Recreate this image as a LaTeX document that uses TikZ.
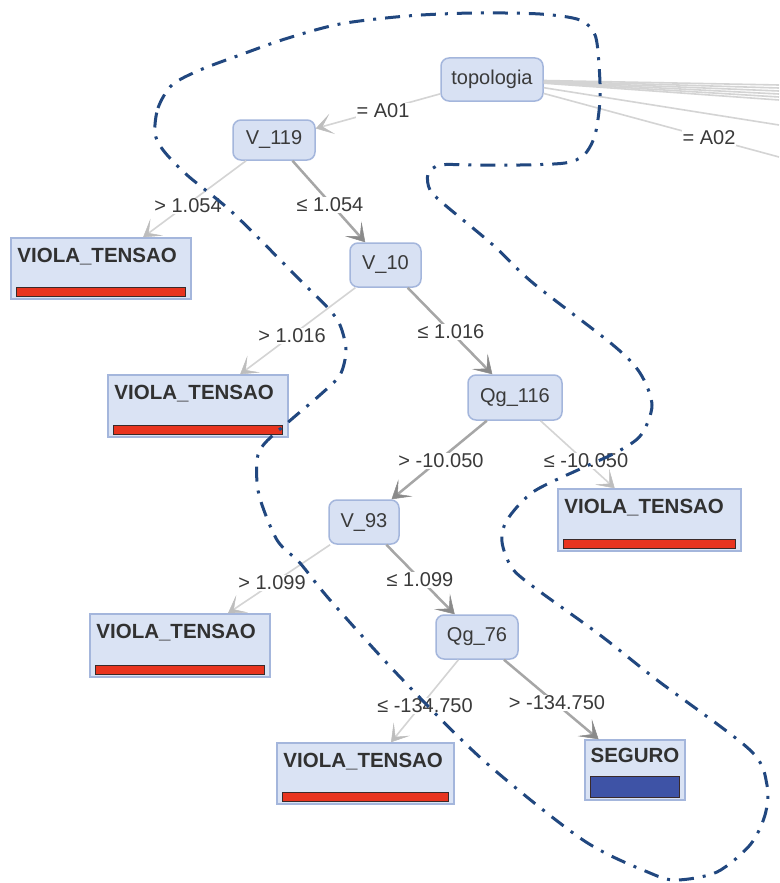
\documentclass[tikz,border=0pt]{standalone}
\usepackage{fontspec}
\setmainfont{Liberation Sans}
\usetikzlibrary{arrows.meta}
\definecolor{nodefill}{HTML}{D8E1F3}
\definecolor{nodeborder}{HTML}{A4B6DC}
\definecolor{leaffill}{HTML}{DAE3F4}
\definecolor{txt}{HTML}{3A3A3A}
\definecolor{loopcol}{HTML}{21477F}
\definecolor{litegray}{HTML}{D4D4D4}
\definecolor{litetip}{HTML}{BDBDBD}
\definecolor{heavygray}{HTML}{A6A6A6}
\definecolor{heavytip}{HTML}{8A8A8A}
\definecolor{redbar}{HTML}{E8341F}
\definecolor{bluebar}{HTML}{3E53A6}
\definecolor{barline}{HTML}{3A2A2A}
\begin{document}
\begin{tikzpicture}[x=1pt,y=-1pt,
 inner/.style={draw=nodeborder, fill=nodefill, rounded corners=8pt, line width=1.5pt, text=txt, font=\fontsize{20}{24}\selectfont, inner sep=0pt},
 leafbox/.style={draw=nodeborder, fill=leaffill, line width=1.5pt, inner sep=0pt},
 leaftext/.style={text=txt!85!black, font=\fontsize{20.5}{24}\selectfont\bfseries, inner sep=0pt},
 elabel/.style={fill=white, text=txt, font=\fontsize{20}{24}\selectfont, inner sep=1pt},
 lite/.style={draw=litegray, line width=1.6pt, -{Stealth[length=17pt,width=21pt,inset=10pt,fill=litetip,color=litetip,line width=0.5pt]}},
 heavy/.style={draw=heavygray, line width=2.5pt, -{Stealth[length=18pt,width=22pt,inset=10pt,fill=heavytip,color=heavytip,line width=0.5pt]}},
 bundle/.style={draw=litegray, line width=1.6pt},
 redfill/.style={fill=redbar, draw=barline, line width=0.8pt},
 bluefill/.style={fill=bluebar, draw=barline, line width=0.8pt},
 looppath/.style={draw=loopcol, line width=3pt, dash pattern=on 15pt off 9pt on 3pt off 9pt}
]
\useasboundingbox (0,0) rectangle (779,883);
\fill[white] (0,0) rectangle (779,883);

% inner nodes
\node[inner, minimum width=102pt, minimum height=43pt] (topo) at (492,79.5) {topologia};
\node[inner, minimum width=82pt, minimum height=40pt] (v119) at (274,140) {V\_119};
\node[inner, minimum width=71pt, minimum height=44pt] (v10) at (385.5,265) {V\_10};
\node[inner, minimum width=94pt, minimum height=45pt] (qg116) at (515,397.5) {Qg\_116};
\node[inner, minimum width=70pt, minimum height=44pt] (v93) at (364,522) {V\_93};
\node[inner, minimum width=82pt, minimum height=44pt] (qg76) at (477,637) {Qg\_76};

% leaves
\node[leafbox, minimum width=180pt, minimum height=61pt] (l1) at (101,268.5) {};
\node[leafbox, minimum width=180pt, minimum height=62pt] (l2) at (198,406) {};
\node[leafbox, minimum width=183pt, minimum height=62pt] (l3) at (649.5,520) {};
\node[leafbox, minimum width=180pt, minimum height=63pt] (l4) at (180,645.5) {};
\node[leafbox, minimum width=177pt, minimum height=61pt] (l5) at (365.5,773.5) {};
\node[leafbox, minimum width=100pt, minimum height=60pt] (sg) at (635,770) {};

\foreach \n in {l1,l2,l3,l4,l5}{
  \node[leaftext, anchor=north west] (\n t) at ([shift={(7,11)}]\n.north west) {VIOLA\_TENSAO};
  \draw[redfill] ([shift={(6,-3)}]\n.south west) rectangle ([shift={(-6,-12)}]\n.south east);
}
\node[leaftext, anchor=north] (sgt) at ([shift={(0,9)}]sg.north) {SEGURO};
\draw[bluefill] ([shift={(6,-3)}]sg.south west) rectangle ([shift={(-6,-24)}]sg.south east);

% bundle of edges leaving topologia to the right
\coordinate (r1) at (779,85);
\coordinate (r2) at (779,88);
\coordinate (r3) at (779,91);
\coordinate (r4) at (779,94);
\coordinate (r5) at (779,97);
\coordinate (r6) at (779,100);
\coordinate (r7) at (779,125);
\coordinate (r8) at (779,157);
\foreach \r in {r1,r2,r3,r4,r5,r6,r7,r8}{ \draw[bundle] (topo) -- (\r); }

% edges
\draw[lite] (topo) -- (v119);
\draw[lite] (v119) -- (l1);
\draw[heavy] (v119) -- (v10);
\draw[lite] (v10) -- (l2);
\draw[heavy] (v10) -- (qg116);
\draw[heavy] (qg116) -- (v93);
\draw[lite] (qg116) -- (l3);
\draw[lite] (v93) -- (l4);
\draw[heavy] (v93) -- (qg76);
\draw[lite] (qg76) -- (l5);
\draw[heavy] (qg76) -- (sg);

% edge labels
\node[elabel] (ea01) at (383,111) {= A01};
\node[elabel] (ea02) at (709,138) {= A02};
\node[elabel] (e1) at (188,206) {> 1.054};
\node[elabel] (e2) at (330,205) {≤ 1.054};
\node[elabel] (e3) at (292,336) {> 1.016};
\node[elabel] (e4) at (451,332) {≤ 1.016};
\node[elabel] (e5) at (441,461) {> -10.050};
\node[elabel] (e6) at (586,461) {≤ -10.050};
\node[elabel] (e7) at (272,583) {> 1.099};
\node[elabel] (e8) at (420,580) {≤ 1.099};
\node[elabel] (e9) at (425,706) {≤ -134.750};
\node[elabel] (e10) at (557,703) {> -134.750};

% dash-dot loop
\draw[looppath] plot[smooth cycle, tension=0.5] coordinates {
 (155,133) (158,108) (172,85) (200,70) (240,55) (285,39) (340,24) (407,16) (473,13) (540,14) (580,20) (595,35) (599,65) (600,100) (595,135) (584,155) (565,163) (520,165) (473,165) (440,165) (428,174) (430,190) (445,205) (493,245) (533,283) (613,345) (640,373) (652,405) (641,435) (617,452) (580,469) (533,492) (507,520) (502,542) (512,568) (535,588) (600,635) (657,680) (750,750) (767,785) (765,815) (750,845) (717,872) (677,880) (650,873) (583,840) (483,760) (400,677) (330,600) (300,563) (277,540) (259,495) (257,460) (265,443) (293,418) (320,395) (340,375) (346,350) (340,325) (328,308) (300,280) (233,213) (187,175) (163,150)
};
\end{tikzpicture}
\end{document}
